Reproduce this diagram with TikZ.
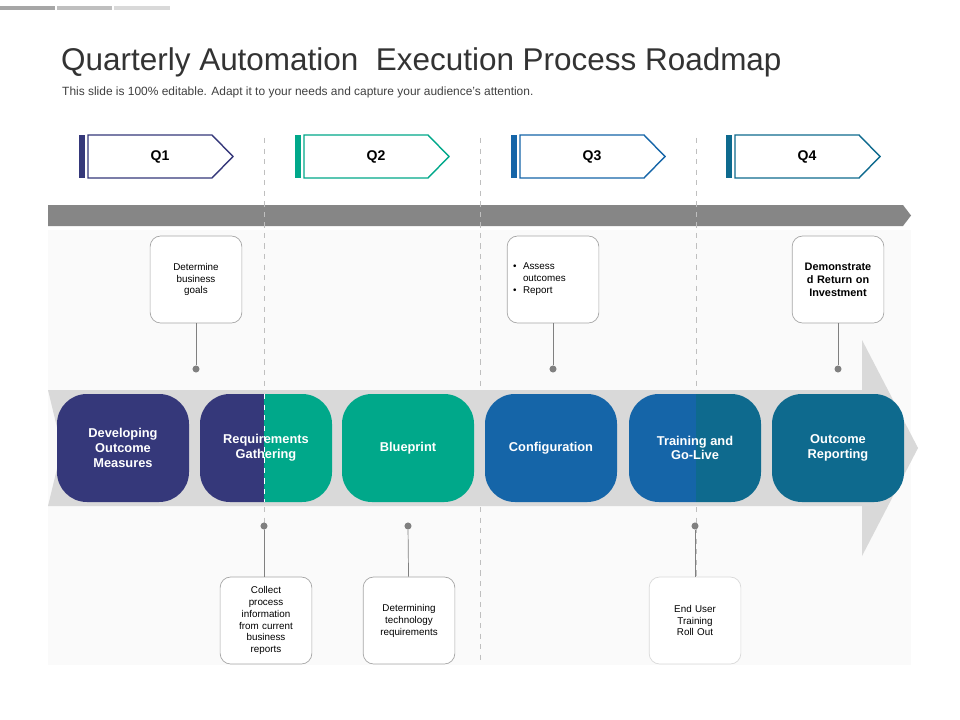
\documentclass[tikz,border=0pt]{standalone}
\usepackage{fontspec}
\setmainfont{Liberation Sans}
\usetikzlibrary{shapes.geometric}
\definecolor{navy}{HTML}{35387A}
\definecolor{teal}{HTML}{00A88A}
\definecolor{cblue}{HTML}{1565A8}
\definecolor{dteal}{HTML}{0E6A8E}
\definecolor{band}{HTML}{D9D9D9}
\tikzset{
  qbox/.style={draw=#1, fill=white, thick},
  note/.style={draw=gray!70, fill=white, rounded corners=6pt, minimum width=18.2mm, minimum height=17.4mm, align=center, font=\fontsize{5.6}{6.8}\selectfont, text width=16mm},
  caps/.style={rounded corners=17pt},
  ctext/.style={text=white, font=\bfseries\fontsize{7.3}{8.4}\selectfont, align=center},
  dot/.style={circle, fill=gray, inner sep=0pt, minimum size=4pt},
}
\begin{document}
\begin{tikzpicture}[x=0.2mm, y=-0.2mm]
  \useasboundingbox[fill=white] (0,0) rectangle (960,720);

  %% top bars and title
  \fill[gray!70] (0,6) rectangle (55,10);
  \fill[gray!50] (57,6) rectangle (112,10);
  \fill[gray!30] (114,6) rectangle (170,10);
  \node[anchor=west, font=\fontsize{17.9}{19}\selectfont, text=black!80] (title) at (55,62) {Quarterly Automation\ \ Execution Process Roadmap};
  \node[anchor=west, font=\fontsize{6.8}{7.5}\selectfont, text=black!75] (sub) at (56,92) {This slide is 100\% editable. Adapt it to your needs and capture your audience's attention.};

  %% panel
  \fill[black!2] (48,230) rectangle (911,665);

  %% quarters
  \foreach \x/\c/\q in {79/navy/Q1, 295/teal/Q2, 511/cblue/Q3, 726/dteal/Q4}{
    \fill[\c] (\x,135) rectangle +(6,43);
    \draw[qbox=\c] (\x+9,135) -- (\x+133,135) -- (\x+154,156.5) -- (\x+133,178) -- (\x+9,178) -- cycle;
    \node[font=\bfseries\fontsize{8}{9}\selectfont] (\q) at (\x+81,157) {\q};
  }

  %% timeline arrow
  \fill[gray!95!white] (48,205) -- (903,205) -- (911,215.5) -- (903,226) -- (48,226) -- cycle;

  %% dashed dividers
  \foreach \x in {264,480,696}
    \draw[dashed, gray!50, thin] (\x,138) -- (\x,662);

  %% big band arrow
  \fill[band] (48,390) -- (862,390) -- (862,340) -- (918,448) -- (862,556) -- (862,506) -- (48,506) -- (62,448) -- cycle;

  %% capsules
  \foreach \x/\c in {123/navy, 408/teal, 551/cblue, 838/dteal}
    \fill[\c, caps] (\x-66,394) rectangle (\x+66,502);
  \begin{scope}
    \clip (150,380) rectangle (264,520);
    \fill[navy, caps] (200,394) rectangle (332,502);
  \end{scope}
  \begin{scope}
    \clip (264,380) rectangle (340,520);
    \fill[teal, caps] (200,394) rectangle (332,502);
  \end{scope}
  \begin{scope}
    \clip (620,380) rectangle (696,520);
    \fill[cblue, caps] (629,394) rectangle (761,502);
  \end{scope}
  \begin{scope}
    \clip (696,380) rectangle (770,520);
    \fill[dteal, caps] (629,394) rectangle (761,502);
  \end{scope}
  \draw[dashed, white, thin] (264,394) -- (264,502);

  \node[ctext] (dev)  at (123,448) {Developing\\Outcome\\Measures};
  \node[ctext] (req)  at (266,448) {Requirements\\Gathering};
  \node[ctext] (blue) at (408,448) {Blueprint};
  \node[ctext] (conf) at (551,448) {Configuration};
  \node[ctext] (train) at (695,448) {Training and\\Go-Live};
  \node[ctext] (out)  at (838,448) {Outcome\\Reporting};

  %% notes top
  \node[note] (n1) at (196,279.5) {Determine\\business\\goals};
  \node[note, align=left] (n2) at (553,279.5) {\textbullet\ \ Assess\\\phantom{\textbullet\ \ }outcomes\\\textbullet\ \ Report};
  \node[note, font=\bfseries\fontsize{6.2}{7.5}\selectfont] (n3) at (838,279.5) {Demonstrate\\d Return on\\Investment};
  \node[dot] (d1) at (196,369) {};
  \node[dot] (d2) at (553,369) {};
  \node[dot] (d3) at (838,369) {};
  \draw[gray] (n1) -- (d1);
  \draw[gray] (n2) -- (d2);
  \draw[gray] (n3) -- (d3);

  %% notes bottom
  \node[note] (n4) at (266,620.5) {Collect\\process\\information\\from current\\business\\reports};
  \node[note] (n5) at (409,620.5) {Determining\\technology\\requirements};
  \node[note, draw=gray!30] (n6) at (695,620.5) {End User\\Training\\Roll Out};
  \node[dot] (d4) at (264,526) {};
  \node[dot] (d5) at (408,526) {};
  \node[dot] (d6) at (695,526) {};
  \draw[gray] (d4) -- (d4 |- n4.north);
  \draw[gray] (d5) -- (n5);
  \draw[gray] (d6) -- (n6);
\end{tikzpicture}
\end{document}
